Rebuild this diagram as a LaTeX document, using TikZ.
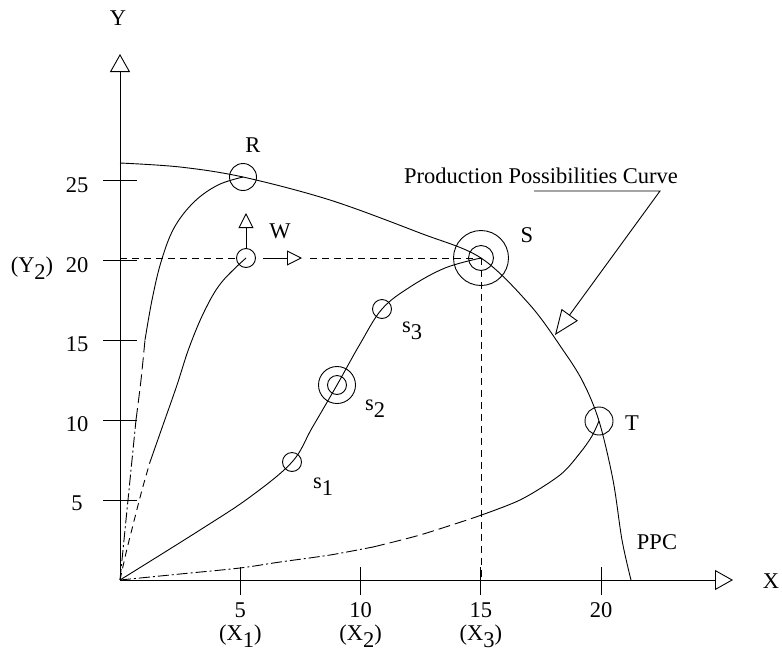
\documentclass[tikz,border=0pt]{standalone}
\usepackage{fontspec}
\setmainfont{Liberation Serif}
\usetikzlibrary{arrows.meta}
\newcommand\lowidx[1]{\raisebox{-0.33em}{#1}}
\tikzset{
  lbl/.style={inner sep=0pt,outer sep=0pt,font=\fontsize{22.5}{26}\selectfont},
  ring/.style={circle,draw,inner sep=0pt,line width=0.9pt},
  curve/.style={line width=0.9pt},
  axisline/.style={line width=0.9pt,-{Triangle[open,length=18pt,width=20pt]}},
  warrow/.style={line width=0.9pt,-{Triangle[open,length=15pt,width=15pt]}},
  guide/.style={line width=0.9pt,dash pattern=on 7pt off 5pt},
  longdash/.style={line width=0.9pt,dash pattern=on 12pt off 5pt},
  dashdot/.style={line width=0.9pt,dash pattern=on 11pt off 3pt on 2pt off 3pt},
}
\begin{document}
\begin{tikzpicture}[x=1pt,y=-1pt]
\path[use as bounding box] (0,0) rectangle (782,654);
% points of the chart
\coordinate (O) at (120,580);
\coordinate (ytip) at (120,54);
\coordinate (xtip) at (733,580);
\coordinate (R) at (243,177);
\coordinate (W) at (246,258);
\coordinate (S) at (481,258);
\coordinate (T) at (599,421);
\coordinate (s1) at (292,462);
\coordinate (s2) at (337,385);
\coordinate (s3) at (382,309);
\coordinate (ppcstart) at (120,163);
\coordinate (ppcend) at (631,580);
% axes and ticks
\draw[axisline] (O) -- (ytip);
\draw[axisline] (O) -- (xtip);
\foreach \v in {5,10,...,25} {
  \draw[curve] (103,{580-16*\v}) -- (137,{580-16*\v});
  \node[lbl,anchor=base] (ytick\v) at (77,{590-15.9*\v}) {\v};
}
\foreach \v in {5,10,15,20} {
  \draw[curve] ({120+24.05*\v},567) -- ({120+24.05*\v},595);
  \node[lbl,anchor=base] (xtick\v) at ({120+24.05*\v},617) {\v};
}
\foreach \v/\i in {5/1,10/2,15/3}
  \node[lbl,anchor=base] (xname\i) at ({120+24.05*\v},640) {(X\lowidx{\i})};
\node[lbl,anchor=base] (yname2) at (32,272) {(Y\lowidx{2})};
\node[lbl,anchor=base] (xlabel) at (771,588) {X};
\node[lbl,anchor=base] (ylabel) at (118,25) {Y};
% rings
\node[ring,minimum size=27pt] (Rring) at (R) {};
\node[ring,minimum size=19pt] (Wring) at (W) {};
\node[ring,minimum size=25pt] (Sin) at (S) {};
\node[ring,minimum size=55pt] (Sout) at (S) {};
\node[ring,minimum size=28pt] (Tring) at (T) {};
\node[ring,minimum size=19pt] (s1ring) at (s1) {};
\node[ring,minimum size=19pt] (s2in) at (s2) {};
\node[ring,minimum size=37pt] (s2out) at (s2) {};
\node[ring,minimum size=19pt] (s3ring) at (s3) {};
% guides through W and S
\coordinate (Wx) at (302,258);
\coordinate (Wy) at (246,213);
\draw[guide] (120,258) -- (Wring.west);
\draw[warrow] ([xshift=7pt]Wring.east) -- (Wx);
\draw[warrow] (Wring.north) -- (Wy);
\draw[guide] ([xshift=8pt]Wx) -- (S);
\draw[guide] (S) -- (S |- O);
% production possibilities curve
\draw[curve] plot[smooth,tension=0.55] coordinates {(ppcstart) (180,167) (R) (330,200) (420,233) (S) (530,305) (563,350) (583,382) (T) (613,480) (622,540) (ppcend)};
% path through s1 s2 s3
\draw[curve] plot[smooth,tension=0.6] coordinates {(O) (200,530) (250,497) (s1) (312,428) (s2) (360,344) (s3) (410,287) (445,268) (S)};
% path to W
\draw[guide] plot[smooth] coordinates {(O) (126,553) (133,525) (142,490) (150,462)};
\draw[curve] plot[smooth,tension=0.6] coordinates {(150,462) (163,425) (177,385) (189,348) (204,312) (221,283) (W)};
% path to R
\draw[dashdot] plot[smooth] coordinates {(O) (124,540) (128,500) (132,460) (136,420)};
\draw[longdash] plot[smooth] coordinates {(136,420) (141,380) (145,340)};
\draw[curve] plot[smooth,tension=0.6] coordinates {(145,340) (152,300) (161,262) (174,228) (194,202) (218,185) (R)};
% path to T
\draw[dashdot] plot[smooth] coordinates {(O) (180,574) (240,568) (280,562) (330,555) (373,547)};
\draw[longdash] plot[smooth] coordinates {(373,547) (420,535) (473,518)};
\draw[curve] plot[smooth] coordinates {(473,518) (520,500) (560,475) (580,453) (592,436) (T)};
% labels
\node[lbl,anchor=base] (Rlbl) at (253,152) {R};
\node[lbl,anchor=base] (Wlbl) at (280,238) {W};
\node[lbl,anchor=base] (Slbl) at (527,242) {S};
\node[lbl,anchor=base] (Tlbl) at (632,430) {T};
\node[lbl,anchor=base west] (s1lbl) at (313,488) {s\lowidx{1}};
\node[lbl,anchor=base west] (s2lbl) at (365,410) {s\lowidx{2}};
\node[lbl,anchor=base west] (s3lbl) at (402,332) {s\lowidx{3}};
\node[lbl,anchor=base] (ppclbl) at (657,549) {PPC};
% pointer to the curve
\node[lbl,anchor=base] (ppctext) at (541,183) {Production Possibilities Curve};
\coordinate (leadA) at (534,191);
\coordinate (leadB) at (660,191);
\coordinate (ppcpoint) at (555,335);
\draw[curve,-{Triangle[open,length=25pt,width=20pt]}] (leadA) -- (leadB) -- (ppcpoint);
\end{tikzpicture}
\end{document}
